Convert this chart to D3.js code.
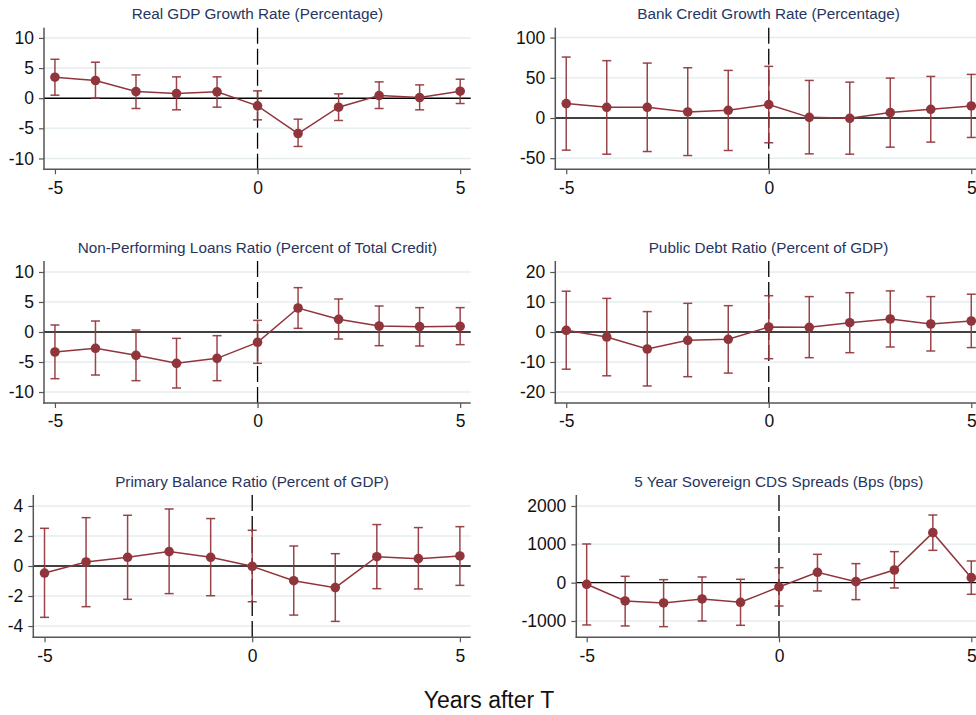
<!DOCTYPE html>
<html>
<head>
<meta charset="utf-8">
<script src="https://cdn.jsdelivr.net/npm/d3@7"></script>
<style>
  body { margin: 0; background: #fff; }
  svg { display: block; font-family: "Liberation Sans", Arial, sans-serif; }
</style>
</head>
<body>
<svg id="chart" width="976" height="715"></svg>
<script>
// years relative to the event
const years = [-5, -4, -3, -2, -1, 0, 1, 2, 3, 4, 5];

const gdpMid = [3.48, 2.93, 1.1, 0.77, 1.05, -1.27, -5.86, -1.49, 0.44, 0.11, 1.16];
const gdpHi = [6.46, 5.97, 3.87, 3.54, 3.54, 1.22, -3.48, 0.72, 2.71, 2.21, 3.15];
const gdpLo = [0.5, 0.0, -1.71, -1.93, -1.49, -3.59, -8.01, -3.7, -1.71, -1.93, -0.88];

const creditMid = [17.9, 13.3, 13.3, 7.5, 9.6, 16.7, 0.8, -0.4, 6.7, 10.8, 15];
const creditHi = [75.8, 71.3, 68.3, 62.5, 59.2, 64.2, 46.7, 44.6, 49.6, 51.7, 54.2];
const creditLo = [-40, -45, -41.7, -46.7, -40.4, -30.8, -44.6, -45, -36.3, -30, -24.2];

const nplMid = [-3.33, -2.72, -3.89, -5.22, -4.39, -1.72, 4.0, 2.11, 1.0, 0.89, 0.94];
const nplHi = [1.17, 1.83, 0.33, -1.06, -0.61, 1.94, 7.39, 5.5, 4.33, 4.06, 4.06];
const nplLo = [-7.78, -7.17, -8.11, -9.33, -8.11, -5.22, 0.61, -1.17, -2.28, -2.33, -2.11];

const debtMid = [0.56, -1.67, -5.67, -2.78, -2.44, 1.67, 1.56, 3.1, 4.33, 2.67, 3.67];
const debtHi = [13.6, 11.2, 6.8, 9.56, 8.78, 12.1, 11.8, 13.1, 13.7, 11.8, 12.6];
const debtLo = [-12.4, -14.6, -18, -14.9, -13.7, -8.9, -8.56, -6.9, -5.0, -6.33, -5.2];

const balanceMid = [-0.47, 0.27, 0.58, 0.96, 0.58, -0.02, -0.98, -1.44, 0.62, 0.49, 0.67];
const balanceHi = [2.51, 3.22, 3.38, 3.8, 3.16, 2.38, 1.33, 0.82, 2.76, 2.56, 2.62];
const balanceLo = [-3.42, -2.71, -2.22, -1.84, -1.98, -2.38, -3.27, -3.69, -1.51, -1.53, -1.29];

const cdsMid = [-43, -478, -530, -426, -513, -113, 270, 26, 330, 1304, 130];
const cdsHi = [1009, 165, 78, 148, 87, 391, 739, 496, 809, 1765, 565];
const cdsLo = [-1104, -1130, -1148, -1000, -1113, -609, -217, -443, -139, 843, -304];

const titles = [
  'Real GDP Growth Rate (Percentage)',
  'Bank Credit Growth Rate (Percentage)',
  'Non-Performing Loans Ratio (Percent of Total Credit)',
  'Public Debt Ratio (Percent of GDP)',
  'Primary Balance Ratio (Percent of GDP)',
  '5 Year Sovereign CDS Spreads (Bps (bps)'
];
const yTicks = [
  [-10, -5, 0, 5, 10],
  [-50, 0, 50, 100],
  [-10, -5, 0, 5, 10],
  [-20, -10, 0, 10, 20],
  [-4, -2, 0, 2, 4],
  [-1000, 0, 1000, 2000]
];
const yDomains = [
  [-11.8, 11.7],
  [-63.8, 112.3],
  [-11.83, 11.83],
  [-23.67, 23.67],
  [-4.75, 4.73],
  [-1426, 2287]
];
const xDomain = [-5.27, 5.26];
const xTicks = [-5, 0, 5];
const xLabel = 'Years after T';

const series = [
  [gdpMid, gdpHi, gdpLo],
  [creditMid, creditHi, creditLo],
  [nplMid, nplHi, nplLo],
  [debtMid, debtHi, debtLo],
  [balanceMid, balanceHi, balanceLo],
  [cdsMid, cdsHi, cdsLo]
];

// plot boxes, pixel positions of each panel's plot region
const boxes = [
  {left: 44, right: 470.7, top: 27.7, bottom: 169.3},
  {left: 555.3, right: 981.8, top: 27.7, bottom: 169.3},
  {left: 44, right: 470.7, top: 261, bottom: 403},
  {left: 555.3, right: 981.8, top: 261, bottom: 403},
  {left: 33.3, right: 470.7, top: 495, bottom: 637.3},
  {left: 576.3, right: 981.3, top: 495, bottom: 637.3}
];

const markColor = '#90353b';
const titleColor = '#27365f';
const gridColor = '#e6eef0';
const axisColor = '#555';

const svg = d3.select('#chart');

// plain numbers with a hyphen minus, no thousands separator
const plain = (d) => String(d);

function drawPanel (i) {
  const box = boxes[i];
  const [mid, hi, lo] = series[i];
  const rows = years.map((y, k) => ({year: y, mid: mid[k], hi: hi[k], lo: lo[k]}));

  const x = d3.scaleLinear().domain(xDomain).range([box.left, box.right]);
  const y = d3.scaleLinear().domain(yDomains[i]).range([box.bottom, box.top]);

  const g = svg.append('g').attr('class', 'panel');

  // gridlines
  g.append('g')
    .selectAll('line')
    .data(yTicks[i].filter((t) => t !== 0))
    .enter()
    .append('line')
    .attr('x1', box.left)
    .attr('x2', box.right)
    .attr('y1', (d) => y(d))
    .attr('y2', (d) => y(d))
    .attr('stroke', gridColor)
    .attr('stroke-width', 1.5);

  // zero line
  g.append('line')
    .attr('x1', box.left)
    .attr('x2', box.right)
    .attr('y1', y(0))
    .attr('y2', y(0))
    .attr('stroke', '#000')
    .attr('stroke-width', 1.4);

  // event line
  g.append('line')
    .attr('x1', x(0))
    .attr('x2', x(0))
    .attr('y1', box.top)
    .attr('y2', box.bottom)
    .attr('stroke', '#000')
    .attr('stroke-width', 1.3)
    .attr('stroke-dasharray', '16,5');

  // axes
  const yAxis = d3.axisLeft(y).tickValues(yTicks[i]).tickFormat(plain).tickSize(5).tickPadding(5);
  const xAxis = d3.axisBottom(x).tickValues(xTicks).tickFormat(plain).tickSize(5).tickPadding(7);

  const ya = g.append('g')
    .attr('transform', 'translate(' + box.left + ',0)')
    .call(yAxis);
  const xa = g.append('g')
    .attr('transform', 'translate(0,' + box.bottom + ')')
    .call(xAxis);

  [ya, xa].forEach((a) => {
    a.select('.domain').remove();
    a.selectAll('.tick line').attr('stroke', axisColor).attr('stroke-width', 1.2);
    a.selectAll('.tick text')
      .attr('fill', '#111')
      .style('font-size', '17.5px')
      .style('font-family', '"Liberation Sans", Arial, sans-serif');
  });

  g.append('line')
    .attr('x1', box.left)
    .attr('x2', box.left)
    .attr('y1', box.top)
    .attr('y2', box.bottom + 0.7)
    .attr('stroke', axisColor)
    .attr('stroke-width', 1.5);
  g.append('line')
    .attr('x1', box.left - 0.7)
    .attr('x2', box.right)
    .attr('y1', box.bottom)
    .attr('y2', box.bottom)
    .attr('stroke', axisColor)
    .attr('stroke-width', 1.5);

  // connecting line
  const line = d3.line()
    .x((d) => x(d.year))
    .y((d) => y(d.mid));

  g.append('path')
    .datum(rows)
    .attr('d', line)
    .attr('fill', 'none')
    .attr('stroke', markColor)
    .attr('stroke-width', 1.5);

  // error bars
  const bars = g.append('g')
    .selectAll('g')
    .data(rows)
    .enter()
    .append('g')
    .attr('stroke', markColor)
    .attr('stroke-opacity', 0.92)
    .attr('stroke-width', 1.5);

  bars.append('line')
    .attr('x1', (d) => x(d.year))
    .attr('x2', (d) => x(d.year))
    .attr('y1', (d) => y(d.lo))
    .attr('y2', (d) => y(d.hi));
  bars.append('line')
    .attr('x1', (d) => x(d.year) - 4.5)
    .attr('x2', (d) => x(d.year) + 4.5)
    .attr('y1', (d) => y(d.hi))
    .attr('y2', (d) => y(d.hi));
  bars.append('line')
    .attr('x1', (d) => x(d.year) - 4.5)
    .attr('x2', (d) => x(d.year) + 4.5)
    .attr('y1', (d) => y(d.lo))
    .attr('y2', (d) => y(d.lo));

  // markers
  g.append('g')
    .selectAll('circle')
    .data(rows)
    .enter()
    .append('circle')
    .attr('cx', (d) => x(d.year))
    .attr('cy', (d) => y(d.mid))
    .attr('r', 4.8)
    .attr('fill', markColor);

  // title
  g.append('text')
    .attr('x', (box.left + box.right) / 2)
    .attr('y', box.top - 8.5)
    .attr('text-anchor', 'middle')
    .attr('fill', titleColor)
    .style('font-size', '15.3px')
    .text(titles[i]);
}

for (let i = 0; i < boxes.length; i++) {
  drawPanel(i);
}

svg.append('text')
  .attr('x', 489)
  .attr('y', 708)
  .attr('text-anchor', 'middle')
  .attr('fill', '#111')
  .style('font-size', '23px')
  .text(xLabel);
</script>
</body>
</html>
